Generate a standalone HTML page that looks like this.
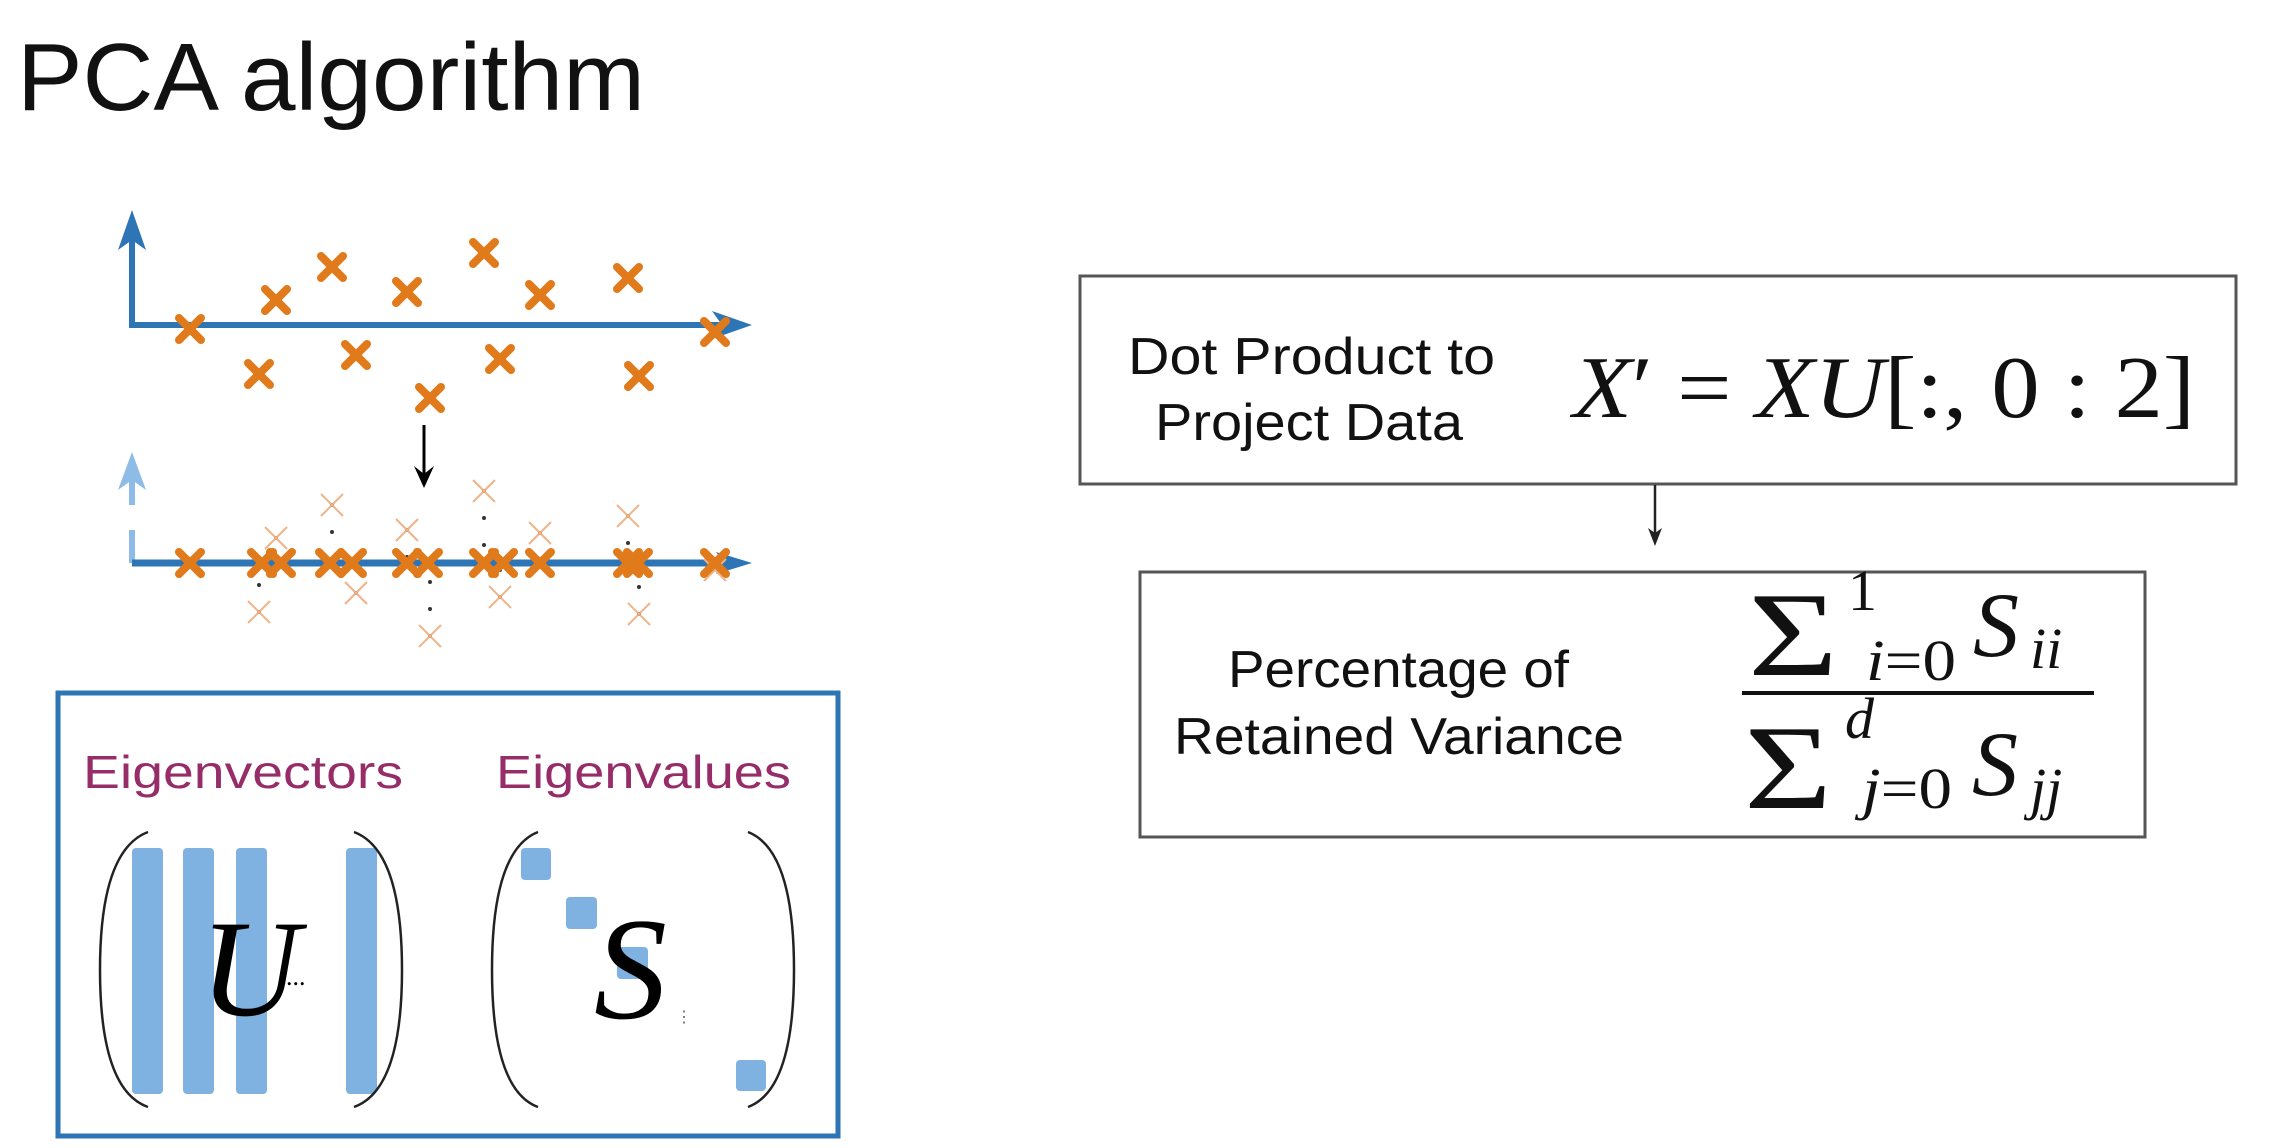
<!DOCTYPE html>
<html><head><meta charset="utf-8"><style>html,body{margin:0;padding:0;background:#fff}svg{display:block}</style></head>
<body>
<svg width="2282" height="1148" viewBox="0 0 2282 1148" xmlns="http://www.w3.org/2000/svg">
<defs>
<g id="bx"><line x1="-11" y1="-11" x2="11" y2="11"/><line x1="-11" y1="11" x2="11" y2="-11"/></g>
</defs>
<text x="17" y="110" font-family="Liberation Sans, sans-serif" font-size="96" textLength="628" lengthAdjust="spacingAndGlyphs" fill="#111">PCA algorithm</text>

<!-- chart 1 -->
<g stroke="#2e75b6" stroke-width="6" fill="none">
<polyline points="132,220 132,325 735,325"/>
</g>
<polygon points="132,210 118,250 132,240 146,250" fill="#2e75b6"/>
<polygon points="752,325 712,311 722,325 712,339" fill="#2e75b6"/>
<g stroke="#e07a1a" stroke-width="8" stroke-linecap="round">
<use href="#bx" x="190" y="329"/><use href="#bx" x="276" y="300"/><use href="#bx" x="332" y="267"/>
<use href="#bx" x="259" y="374"/><use href="#bx" x="356" y="355"/><use href="#bx" x="407" y="292"/>
<use href="#bx" x="484" y="253"/><use href="#bx" x="430" y="398"/><use href="#bx" x="540" y="295"/>
<use href="#bx" x="500" y="359"/><use href="#bx" x="628" y="278"/><use href="#bx" x="639" y="376"/>
<use href="#bx" x="715" y="332"/>
</g>
<line x1="424" y1="425" x2="424" y2="478" stroke="#000" stroke-width="3"/>
<polygon points="424,488 414,466 424,474 434,466" fill="#000"/>

<!-- chart 2 -->
<line x1="132" y1="505" x2="132" y2="470" stroke="#8fbce6" stroke-width="6"/>
<polygon points="132,452 118,490 132,480 146,490" fill="#8fbce6"/>
<line x1="132" y1="530" x2="132" y2="563" stroke="#8fbce6" stroke-width="6"/>
<line x1="132" y1="563" x2="735" y2="563" stroke="#2e75b6" stroke-width="7"/>
<polygon points="752,563 716,552 724,563 716,574" fill="#2e75b6"/>
<g stroke="#333" stroke-width="4" stroke-linecap="round" stroke-dasharray="0 27">
<line x1="276" y1="538" x2="276" y2="563"/><line x1="332" y1="505" x2="332" y2="563"/>
<line x1="259" y1="612" x2="259" y2="563"/><line x1="356" y1="593" x2="356" y2="563"/>
<line x1="407" y1="530" x2="407" y2="563"/><line x1="484" y1="491" x2="484" y2="563"/>
<line x1="430" y1="636" x2="430" y2="563"/><line x1="540" y1="533" x2="540" y2="563"/>
<line x1="500" y1="597" x2="500" y2="563"/><line x1="628" y1="516" x2="628" y2="563"/>
<line x1="639" y1="614" x2="639" y2="563"/>
</g>
<g stroke="#f0b48a" stroke-width="2">
<use href="#bx" x="190" y="567"/><use href="#bx" x="276" y="538"/><use href="#bx" x="332" y="505"/>
<use href="#bx" x="259" y="612"/><use href="#bx" x="356" y="593"/><use href="#bx" x="407" y="530"/>
<use href="#bx" x="484" y="491"/><use href="#bx" x="430" y="636"/><use href="#bx" x="540" y="533"/>
<use href="#bx" x="500" y="597"/><use href="#bx" x="628" y="516"/><use href="#bx" x="639" y="614"/>
<use href="#bx" x="715" y="570"/>
</g>
<g stroke="#e07a1a" stroke-width="8" stroke-linecap="round">
<use href="#bx" x="190" y="563"/><use href="#bx" x="262" y="563"/><use href="#bx" x="281" y="563"/>
<use href="#bx" x="330" y="563"/><use href="#bx" x="352" y="563"/><use href="#bx" x="407" y="563"/>
<use href="#bx" x="428" y="563"/><use href="#bx" x="484" y="563"/><use href="#bx" x="503" y="563"/>
<use href="#bx" x="540" y="563"/><use href="#bx" x="628" y="563"/><use href="#bx" x="638" y="563"/>
<use href="#bx" x="715" y="563"/>
</g>

<!-- eigen box -->
<rect x="58" y="693" width="780" height="443" fill="none" stroke="#2e75b6" stroke-width="5"/>
<text x="83" y="788" font-family="Liberation Sans, sans-serif" font-size="46" textLength="320" lengthAdjust="spacingAndGlyphs" fill="#962d68">Eigenvectors</text>
<text x="496" y="788" font-family="Liberation Sans, sans-serif" font-size="46" textLength="295" lengthAdjust="spacingAndGlyphs" fill="#962d68">Eigenvalues</text>
<g fill="#7fb2e0">
<rect x="132" y="848" width="31" height="246" rx="4"/><rect x="183" y="848" width="31" height="246" rx="4"/>
<rect x="236" y="848" width="31" height="246" rx="4"/><rect x="346" y="848" width="31" height="246" rx="4"/>
<rect x="521" y="848" width="30" height="32" rx="4"/><rect x="566" y="897" width="31" height="32" rx="4"/>
<rect x="617" y="947" width="31" height="32" rx="4"/><rect x="736" y="1060" width="30" height="31" rx="4"/>
</g>
<g fill="none" stroke="#222" stroke-width="2.5">
<path d="M148,832 Q100,850 100,970 Q100,1090 148,1107"/>
<path d="M354,832 Q402,850 402,970 Q402,1090 354,1107"/>
<path d="M538,832 Q492,850 492,970 Q492,1090 538,1107"/>
<path d="M748,832 Q794,850 794,970 Q794,1090 748,1107"/>
</g>
<text x="200" y="1015" font-family="Liberation Serif, serif" font-style="italic" font-size="138" fill="#000">U</text>
<text x="286" y="985" font-family="Liberation Serif, serif" font-size="26" fill="#000">...</text>
<text x="594" y="1018" font-family="Liberation Serif, serif" font-style="italic" font-size="146" fill="#000">S</text>
<text x="676" y="1022" font-family="Liberation Serif, serif" font-size="16" fill="#666">⋮</text>

<!-- right top box -->
<rect x="1080" y="276" width="1156" height="208" fill="#fff" stroke="#555" stroke-width="3"/>
<text x="1128" y="374" font-family="Liberation Sans, sans-serif" font-size="52" textLength="367" lengthAdjust="spacingAndGlyphs" fill="#111">Dot Product to</text>
<text x="1155" y="440" font-family="Liberation Sans, sans-serif" font-size="52" textLength="308" lengthAdjust="spacingAndGlyphs" fill="#111">Project Data</text>
<text x="1573" y="417" font-family="Liberation Serif, serif" font-size="88" textLength="622" lengthAdjust="spacingAndGlyphs" fill="#111"><tspan font-style="italic">X</tspan>′ = <tspan font-style="italic">XU</tspan>[:, 0 : 2]</text>

<line x1="1655" y1="485" x2="1655" y2="535" stroke="#222" stroke-width="2.5"/>
<polygon points="1655,546 1648,528 1655,533 1662,528" fill="#222"/>

<!-- right bottom box -->
<rect x="1140" y="572" width="1005" height="265" fill="#fff" stroke="#555" stroke-width="3"/>
<text x="1228" y="687" font-family="Liberation Sans, sans-serif" font-size="52" textLength="341" lengthAdjust="spacingAndGlyphs" fill="#111">Percentage of</text>
<text x="1174" y="754" font-family="Liberation Sans, sans-serif" font-size="52" textLength="450" lengthAdjust="spacingAndGlyphs" fill="#111">Retained Variance</text>
<g font-family="Liberation Serif, serif" fill="#111">
<text x="1748" y="675" font-size="120" textLength="90" lengthAdjust="spacingAndGlyphs">Σ</text>
<text x="1848" y="610" font-size="58">1</text>
<text x="1866" y="680" font-size="58" textLength="90" lengthAdjust="spacingAndGlyphs"><tspan font-style="italic">i</tspan>=0</text>
<text x="1973" y="656" font-size="92" font-style="italic">S</text>
<text x="2030" y="668" font-size="58" font-style="italic">ii</text>
<rect x="1742" y="691" width="352" height="4"/>
<text x="1744" y="808" font-size="120" textLength="88" lengthAdjust="spacingAndGlyphs">Σ</text>
<text x="1845" y="738" font-size="58" font-style="italic">d</text>
<text x="1862" y="808" font-size="58" textLength="90" lengthAdjust="spacingAndGlyphs"><tspan font-style="italic">j</tspan>=0</text>
<text x="1972" y="795" font-size="92" font-style="italic">S</text>
<text x="2030" y="808" font-size="58" font-style="italic">jj</text>
</g>
</svg>
</body></html>
